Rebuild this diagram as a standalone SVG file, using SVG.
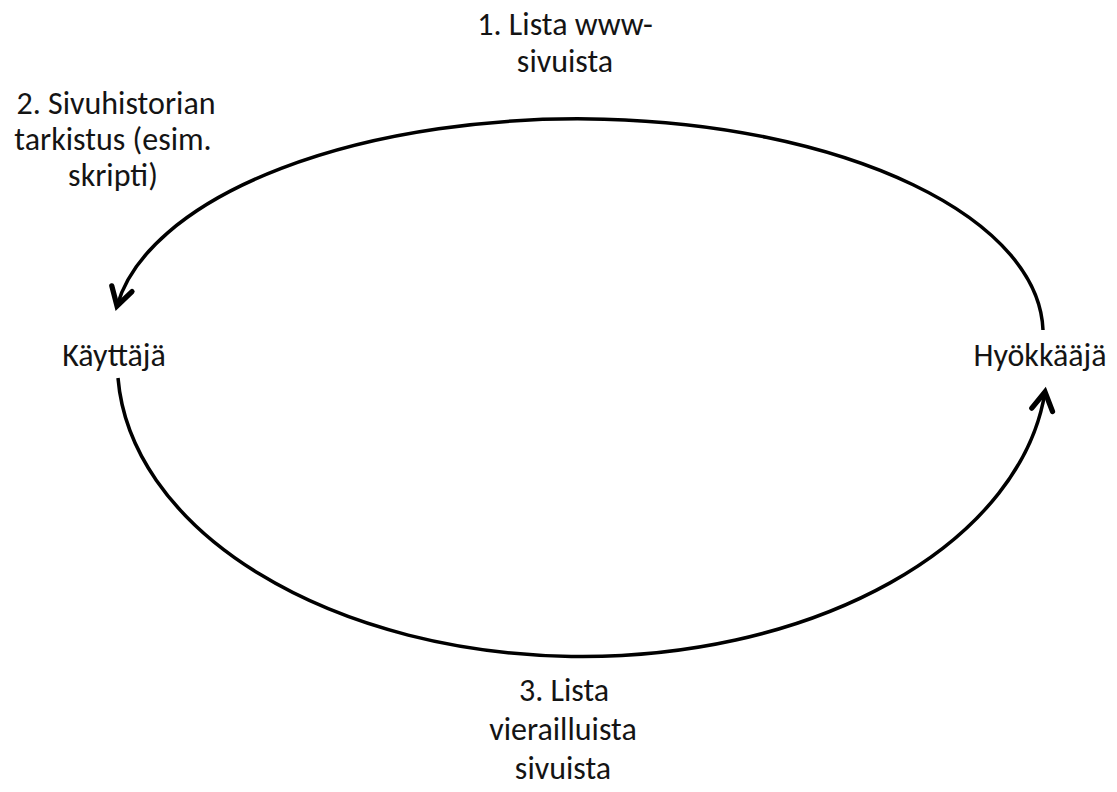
<svg xmlns="http://www.w3.org/2000/svg" width="1117" height="792" viewBox="0 0 1117 792">
<style>
text { font-family: Carlito, Calibri, Lato, "Open Sans", sans-serif; font-size: 32px; fill: #141414; text-anchor: middle; }
.arc { fill: none; stroke: #000; stroke-width: 3.5; }
</style>
<defs>
<marker id="arrow" markerUnits="userSpaceOnUse" markerWidth="30" markerHeight="30" viewBox="-16 -10 20 20" refX="0" refY="0" orient="auto">
<path d="M -12 -7 L 0 0 L -12 7" fill="none" stroke="#000" stroke-width="3.5" stroke-linecap="round" stroke-linejoin="miter"/>
</marker>
</defs>
<rect width="1117" height="792" fill="#fff"/>
<g id="connectors">
<path id="edge1" class="arc" d="M 1043 330 A 465 215 0 0 0 117 306" marker-end="url(#arrow)"/>
<path id="edge3" class="arc" d="M 118 378 A 465 294 0 0 0 1045 392" marker-end="url(#arrow)"/>
</g>
<g id="node-kayttaja"><text x="114" y="366">Käyttäjä</text></g>
<g id="node-hyokkaaja"><text x="1040" y="366">Hyökkääjä</text></g>
<g id="label-1"><text x="565" y="35">1. Lista www-</text><text x="565" y="72">sivuista</text></g>
<g id="label-2"><text x="116" y="114">2. Sivuhistorian</text><text x="113" y="150">tarkistus (esim.</text><text x="113" y="186">skripti)</text></g>
<g id="label-3"><text x="564" y="701">3. Lista</text><text x="563" y="740">vierailluista</text><text x="563" y="779">sivuista</text></g>
</svg>
